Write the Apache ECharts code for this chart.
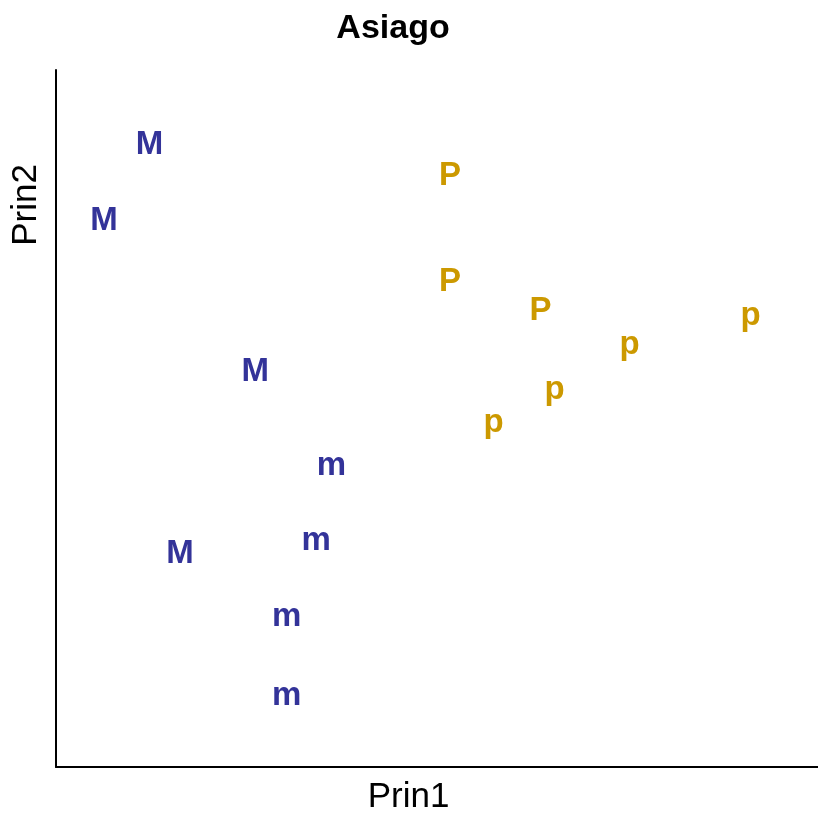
<!DOCTYPE html>
<html>
<head>
<meta charset="utf-8">
<script src="https://cdn.jsdelivr.net/npm/echarts@6/dist/echarts.min.js"></script>
<style>
  html, body { margin: 0; padding: 0; background: #fff; }
  #chart { width: 818px; height: 814px; }
</style>
</head>
<body>
<div id="chart"></div>
<script>
// Principal component scores for Asiago samples, grouped by class letter
const capMLabels = ['M', 'M', 'M', 'M'];
const capMPrin1 = [-1.64, -2.06, -0.67, -1.36];
const capMPrin2 = [2.80, 2.09, 0.68, -1.01];

const lowMLabels = ['m', 'm', 'm', 'm'];
const lowMPrin1 = [0.03, -0.11, -0.38, -0.38];
const lowMPrin2 = [-0.19, -0.89, -1.60, -2.34];

const capPLabels = ['P', 'P', 'P'];
const capPPrin1 = [1.12, 1.12, 1.95];
const capPPrin2 = [2.51, 1.52, 1.25];

const lowPLabels = ['p', 'p', 'p', 'p'];
const lowPPrin1 = [3.88, 2.77, 2.08, 1.52];
const lowPPrin2 = [1.21, 0.94, 0.52, 0.21];

const BLUE = '#333399';
const GOLD = '#CC9900';
const FONT = '"Liberation Sans", Arial, Helvetica, sans-serif';

// Each point is drawn as its class letter, centred on the score
function letterSeries(labels, xs, ys, color, upper) {
  return {
    type: 'scatter',
    symbol: 'circle',
    symbolSize: 1,
    itemStyle: { color: 'rgba(0,0,0,0)', opacity: 1 },
    silent: true,
    data: xs.map((x, i) => ({ value: [x, ys[i]], name: labels[i] })),
    label: {
      show: true,
      position: 'inside',
      formatter: p => p.name,
      color: color,
      opacity: 1,
      fontFamily: FONT,
      fontWeight: 'bold',
      fontSize: 33,
      // capitals sit on the cap-height centre, lowercase on the x-height centre
      offset: upper ? [0, 2] : [0, 0]
    },
    labelLayout: { hideOverlap: false }
  };
}

const chart = echarts.init(document.getElementById('chart'), null, { renderer: 'canvas' });

chart.setOption({
  backgroundColor: '#ffffff',
  animation: false,
  title: {
    text: 'Asiago',
    left: 388,
    top: 7,
    textAlign: 'center',
    textStyle: { fontFamily: FONT, fontWeight: 'bold', fontSize: 34, color: '#000' }
  },
  grid: { left: 56, right: 0, top: 70, bottom: 47, containLabel: false },
  xAxis: {
    type: 'value',
    min: -2.5,
    max: 4.5,
    axisLine: { show: true, onZero: false, lineStyle: { color: '#000', width: 2 } },
    axisTick: { show: false },
    axisLabel: { show: false },
    splitLine: { show: false }
  },
  yAxis: {
    type: 'value',
    min: -3,
    max: 3.5,
    axisLine: { show: true, onZero: false, lineStyle: { color: '#000', width: 2 } },
    axisTick: { show: false },
    axisLabel: { show: false },
    splitLine: { show: false }
  },
  graphic: [
    {
      type: 'text',
      x: 408.5,
      y: 797,
      style: {
        text: 'Prin1',
        fill: '#000',
        font: '35px ' + FONT,
        textAlign: 'center',
        textVerticalAlign: 'middle'
      }
    },
    {
      type: 'text',
      x: 26.5,
      y: 205,
      rotation: Math.PI / 2,
      style: {
        text: 'Prin2',
        fill: '#000',
        font: '35px ' + FONT,
        textAlign: 'center',
        textVerticalAlign: 'middle'
      }
    }
  ],
  series: [
    letterSeries(capMLabels, capMPrin1, capMPrin2, BLUE, true),
    letterSeries(lowMLabels, lowMPrin1, lowMPrin2, BLUE, false),
    letterSeries(capPLabels, capPPrin1, capPPrin2, GOLD, true),
    letterSeries(lowPLabels, lowPPrin1, lowPPrin2, GOLD, false)
  ]
});
</script>
</body>
</html>
